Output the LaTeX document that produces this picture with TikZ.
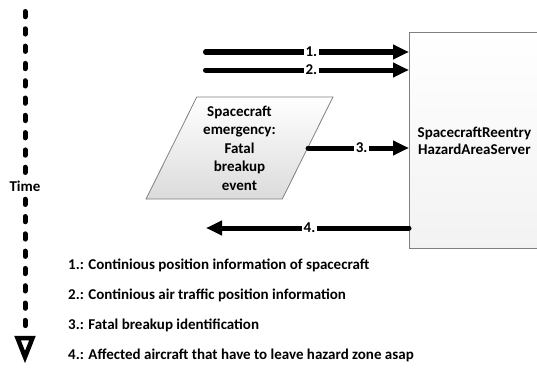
\documentclass[tikz,border=0pt]{standalone}
\usepackage{fontspec}
\setmainfont{Carlito}
\usetikzlibrary{arrows.meta,shapes.geometric}
\begin{document}
\begin{tikzpicture}[x=1pt,y=-1pt,
  txt/.style={font=\fontsize{15}{18}\selectfont\bfseries},
  flow/.style={line width=5pt, line cap=round, -{Triangle[length=16pt,width=14pt]}},
  lbl/.style={txt, fill=white, inner sep=1.5pt, pos=#1},
  timeline/.style={line width=5pt, line cap=round, dash pattern=on 5.3pt off 12pt},
  legend/.style={txt, anchor=base west, inner sep=0pt},
  shape border/.style={draw=black!50, line width=0.8pt}
]
\useasboundingbox (0,0) rectangle (537,369);

% server box
\node[shape border, top color=white, bottom color=black!5,
      minimum width=130pt, minimum height=216pt, inner sep=0pt,
      anchor=north west, txt, align=center,
      font=\fontsize{15}{17}\selectfont\bfseries] (srv) at (409,32)
      {SpacecraftReentry\\HazardAreaServer};

% event parallelogram
\node[trapezium, trapezium left angle=63, trapezium right angle=117,
      trapezium stretches=true, minimum width=187pt, minimum height=102pt,
      inner sep=0pt, shape border, top color=white, bottom color=black!14,
      txt, align=center, font=\fontsize{15}{18.5}\selectfont\bfseries]
      (ev) at (239.5,148) {Spacecraft\\emergency:\\Fatal\\breakup\\event};

% free ends
\coordinate (a1) at (205.5,52);
\coordinate (a2) at (205.5,70);
\coordinate (a4) at (206,228);

\draw[flow] (a1) -- (a1 -| srv.west) node[lbl=0.52] (n1) {1.};
\draw[flow] (a2) -- (a2 -| srv.west) node[lbl=0.52] (n2) {2.};
\draw[flow] (ev.east) -- (ev.east -| srv.west) node[lbl=0.53] (n3) {3.};
\draw[flow] (a4 -| srv.west) -- (a4) node[lbl=0.49] (n4) {4.};

% time axis
\coordinate (t0) at (25,11.5);
\node[txt, minimum height=25pt, inner sep=0pt] (time) at (25,186.5) {Time};
\coordinate (t1) at (25,327);
\draw[timeline] (t0) -- (time.north);
\draw[timeline] (time.south) -- (t1);
\draw[line width=4.5pt, line join=miter]
  ([shift={(-7.5,11)}]t1) -- ([shift={(7.5,11)}]t1) -- ([shift={(0,30)}]t1) -- cycle;

% legend
\node[legend] (l1) at (68,269) {1.: Continious position information of spacecraft};
\node[legend] (l2) at (68,299) {2.: Continious air traffic position information};
\node[legend] (l3) at (68,329) {3.: Fatal breakup identification};
\node[legend] (l4) at (68,359) {4.: Affected aircraft that have to leave hazard zone asap};
\end{tikzpicture}
\end{document}
